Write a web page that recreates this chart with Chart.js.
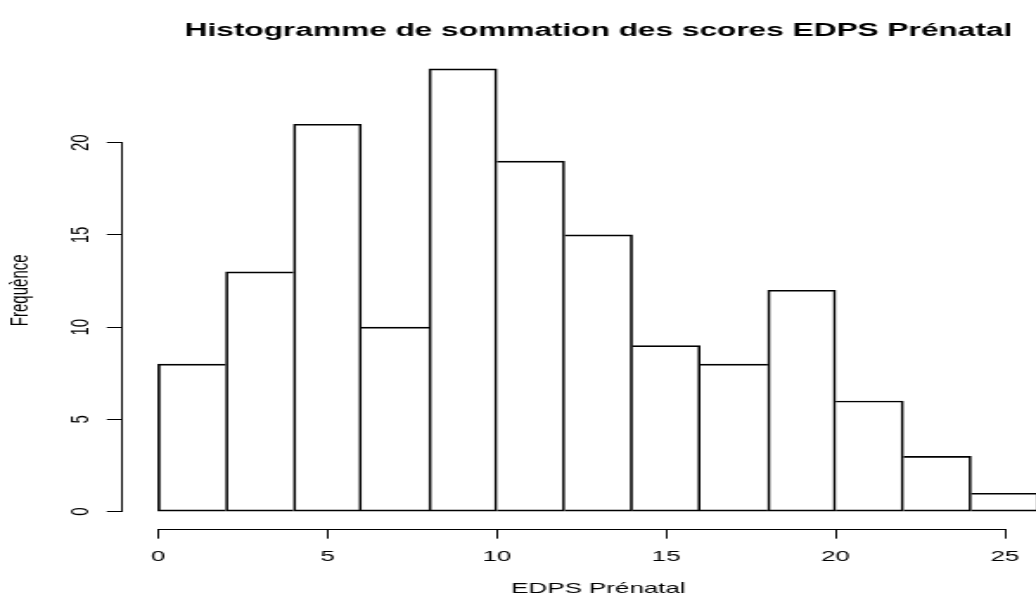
<!DOCTYPE html>
<html lang="fr">
<head>
<meta charset="utf-8">
<title>Histogramme EDPS Prénatal</title>
<script src="https://cdn.jsdelivr.net/npm/chart.js@4.4.1/dist/chart.umd.min.js"></script>
<style>
  html, body { margin: 0; padding: 0; background: #fff; overflow: hidden; width: 1036px; height: 599px; }
  /* The plot is laid out on a square-ish grid and then widened to the page width,
     giving the horizontally stretched look of the exported R graphic. */
  #wrap {
    position: absolute; left: 0; top: 0;
    width: 660px; height: 599px;
    transform: scaleX(1.72955);
    transform-origin: 0 0;
  }
</style>
</head>
<body>
<div id="wrap"><canvas id="hist"></canvas></div>
<script>
// Histogram of summed EDPS prenatal scores (bins of width 2)
const binCenters  = [1, 3, 5, 7, 9, 11, 13, 15, 17, 19, 21, 23, 25];
const frequencies = [8, 13, 21, 10, 24, 19, 15, 9, 8, 12, 6, 3, 1];
const binWidth = 2;
const xTicks = [0, 5, 10, 15, 20, 25];
const yTicks = [0, 5, 10, 15, 20];

const titleText = 'Histogramme de sommation des scores EDPS Prénatal';
const xLabel = 'EDPS Prénatal';
const yLabel = 'Frequènce';

const FONT = '"Liberation Sans", Arial, Helvetica, sans-serif';

// R-style axis limits: data range extended by 4% on each side
const xLo = binCenters[0] - binWidth / 2;
const xHi = binCenters[binCenters.length - 1] + binWidth / 2;
const yLo = 0;
const yHi = Math.max(...frequencies);
const xPad = 0.04 * (xHi - xLo);
const yPad = 0.04 * (yHi - yLo);

// Each shared bar edge is drawn once, by the taller of the two neighbours
function edgeWidths(ctx) {
  const i = ctx.dataIndex;
  const h = frequencies[i];
  const prev = i > 0 ? frequencies[i - 1] : -1;
  const next = i < frequencies.length - 1 ? frequencies[i + 1] : -1;
  return {
    top: 1,
    bottom: 1,
    left: h >= prev ? 1 : 0,
    right: h > next ? 1 : 0
  };
}

// Axis lines spanning only the first to last tick, as base R does
const rAxisLines = {
  id: 'rAxisLines',
  afterDraw(chart) {
    const { ctx, chartArea, scales } = chart;
    const x = scales.x, y = scales.y;
    const bottom = Math.round(chartArea.bottom) + 0.5;
    const left = Math.round(chartArea.left) - 0.5;
    ctx.save();
    ctx.strokeStyle = '#000';
    ctx.lineWidth = 1;
    ctx.beginPath();
    ctx.moveTo(x.getPixelForValue(xTicks[0]), bottom);
    ctx.lineTo(x.getPixelForValue(xTicks[xTicks.length - 1]), bottom);
    ctx.moveTo(left, y.getPixelForValue(yTicks[0]));
    ctx.lineTo(left, y.getPixelForValue(yTicks[yTicks.length - 1]));
    ctx.stroke();
    ctx.restore();
  }
};

new Chart(document.getElementById('hist'), {
  type: 'bar',
  data: {
    datasets: [{
      data: binCenters.map((c, i) => ({ x: c, y: frequencies[i] })),
      backgroundColor: 'rgba(255,255,255,0)',
      borderColor: '#000',
      borderWidth: edgeWidths,
      borderSkipped: false,
      barPercentage: 1,
      categoryPercentage: 1
    }]
  },
  options: {
    responsive: true,
    maintainAspectRatio: false,
    animation: false,
    events: [],
    layout: { padding: { left: 0, right: 39, top: 0, bottom: 0 } },
    plugins: {
      legend: { display: false },
      tooltip: { enabled: false },
      title: {
        display: true,
        fullSize: false,
        text: titleText,
        color: '#000',
        font: { family: FONT, size: 18.3, weight: 'bold' },
        padding: { top: 20, bottom: 9.2 }
      }
    },
    scales: {
      x: {
        type: 'linear',
        min: xLo - xPad,
        max: xHi + xPad,
        offset: false,
        afterFit(s) { s.height = 69.6; },
        afterBuildTicks(s) { s.ticks = xTicks.map(v => ({ value: v })); },
        border: { display: false },
        grid: {
          offset: false,
          drawOnChartArea: false,
          drawTicks: true,
          tickLength: 9.25,
          color: '#000',
          lineWidth: 1
        },
        ticks: {
          autoSkip: false,
          maxRotation: 0,
          minRotation: 0,
          padding: 9,
          color: '#000',
          font: { family: FONT, size: 15 }
        },
        title: {
          display: true,
          text: xLabel,
          color: '#000',
          font: { family: FONT, size: 15 },
          padding: { top: 0, bottom: 1 }
        }
      },
      y: {
        type: 'linear',
        min: yLo - yPad,
        max: yHi + yPad,
        afterFit(s) { s.width = 71; },
        afterBuildTicks(s) { s.ticks = yTicks.map(v => ({ value: v })); },
        border: { display: false },
        grid: {
          drawOnChartArea: false,
          drawTicks: true,
          tickLength: 9.25,
          color: '#000',
          lineWidth: 1
        },
        ticks: {
          autoSkip: false,
          minRotation: 90,
          maxRotation: 90,
          crossAlign: 'center',
          padding: 6.7,
          color: '#000',
          font: { family: FONT, size: 15 }
        },
        title: {
          display: true,
          text: yLabel,
          color: '#000',
          font: { family: FONT, size: 15 },
          padding: { top: 2.5, bottom: 0 }
        }
      }
    }
  },
  plugins: [rAxisLines]
});
</script>
</body>
</html>
